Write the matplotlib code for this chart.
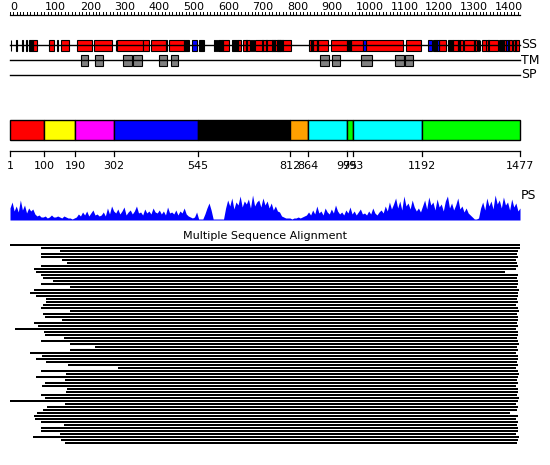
import matplotlib
matplotlib.use("Agg")
import matplotlib.pyplot as plt
from matplotlib.patches import Rectangle

# ---- data ----
seq_len = 1477
ruler_labels = list(range(0, 1401, 100))

# secondary structure elements (start, end residue)
ss_helix = [(68, 80), (115, 129), (148, 173), (194, 237), (245, 295), (312, 385), (385, 404),
            (408, 452), (462, 506), (553, 558), (618, 636), (661, 670), (676, 696), (710, 814),
            (866, 871), (878, 889), (892, 920), (930, 977), (987, 1024), (1030, 1139), (1147, 1190),
            (1242, 1262), (1283, 1298), (1303, 1311), (1316, 1343), (1346, 1352), (1366, 1412),
            (1424, 1428), (1432, 1437), (1445, 1455), (1457, 1462), (1464, 1474)]
ss_strand = [(64, 68), (452, 456), (529, 541), (614, 618), (729, 732), (760, 763), (773, 776),
             (782, 785), (789, 792), (1024, 1030), (1212, 1221), (1230, 1234), (1238, 1242),
             (1383, 1387), (1428, 1432), (1437, 1441)]
ss_other = [(3, 5), (19, 21), (36, 38), (48, 50), (57, 64), (138, 140), (307, 309), (506, 519),
            (548, 553), (558, 563), (591, 593), (598, 600), (604, 614), (643, 661), (684, 687),
            (699, 701), (704, 706), (742, 745), (766, 769), (778, 781), (871, 878), (889, 892),
            (977, 987), (1226, 1230), (1234, 1238), (1270, 1283), (1298, 1303), (1343, 1346),
            (1356, 1358), (1360, 1362), (1378, 1380), (1417, 1424), (1441, 1445), (1462, 1464)]

tm_segments = [(207, 228), (248, 271), (329, 353), (358, 382), (433, 456), (468, 488),
               (899, 923), (934, 957), (1018, 1048), (1116, 1140), (1145, 1166)]

domain_bounds = [1, 100, 190, 302, 545, 812, 864, 975, 993, 1192, 1477]
domain_colors = ["#ff0000", "#ffff00", "#ff00ff", "#0000ff", "#000000", "#ffa000",
                 "#00ffff", "#00ff00", "#00ffff", "#00ff00"]

# PS profile: one height every 6 residues (plus the last residue)
ps_res = list(range(1, seq_len, 6)) + [seq_len]
ps_val = [12, 18, 9, 14, 8, 20, 10, 15, 7, 12, 9, 11, 6,
          4, 5, 3, 3, 4, 2, 3, 5, 3, 3, 4, 3, 2, 4, 3, 2, 2,
          1, 2, 3,
          6, 4, 8, 5, 9, 4, 7, 10, 5, 6, 4,
          5, 8, 4, 12, 6, 14, 9,
          7, 11, 6, 9, 13, 5, 8,
          10, 6, 9, 14, 7, 8, 5, 11, 7, 9, 6, 12, 8, 7, 10,
          6, 9, 5, 13, 7, 8, 6, 10, 5, 9, 7, 12, 6, 4, 3,
          2, 3, 8,
          1, 1, 1,
          6, 12, 17, 10,
          1, 1, 1, 1, 1, 1,
          12, 20, 14, 22, 11, 18, 15, 24, 13, 19, 16, 21, 12, 25, 14, 18, 20, 13, 22, 15, 19, 12,
          17, 10, 14, 9, 8,
          4, 3, 2, 2, 2, 1, 2, 2, 3, 2, 3, 4, 5,
          8, 5, 10, 6, 14, 7, 9, 5, 12, 8, 6, 11, 7, 15, 9, 6, 8, 5, 10, 7, 13, 6, 9, 5, 8, 11,
          6, 7, 5, 9, 6, 12, 7, 5, 8,
          10, 7, 14, 9, 18, 11, 16, 22, 12, 19, 10, 24, 14, 17, 11, 20, 13,
          9, 12, 8, 14, 20, 11, 23, 15, 18, 10, 21, 13, 16, 9, 19, 24, 12, 17, 10, 15, 22, 11,
          14, 8, 12, 7, 5, 3,
          1, 1, 2,
          12, 18, 10, 22, 14, 19, 11, 25, 16, 20, 12, 23, 15, 18, 10, 21, 13, 17, 9, 12]

# multiple sequence alignment rows (first and last aligned residue)
msa_start = [1, 91, 146, 91, 91, 152, 166, 91, 70, 76, 91, 96, 125, 91, 175, 70, 59, 76, 105,
             105, 96, 91, 175, 96, 102, 152, 70, 82, 15, 99, 102, 157, 91, 175, 247, 175, 59,
             94, 76, 105, 169, 314, 91, 163, 76, 160, 102, 94, 166, 163, 91, 102, 1, 160, 108,
             96, 79, 70, 73, 91, 157, 91, 91, 146, 68, 149, 160]
msa_end = [1477, 1477, 1470, 1468, 1470, 1465, 1468, 1470, 1466, 1434, 1470, 1468, 1472, 1470,
           1468, 1474, 1472, 1470, 1468, 1470, 1466, 1472, 1474, 1468, 1470, 1472, 1468, 1470,
           1466, 1470, 1472, 1468, 1470, 1474, 1468, 1470, 1466, 1470, 1472, 1468, 1470, 1466,
           1472, 1474, 1470, 1468, 1470, 1466, 1472, 1470, 1468, 1474, 1470, 1466, 1470, 1468,
           1448, 1470, 1466, 1470, 1468, 1472, 1470, 1466, 1474, 1470, 1468]

# ---- figure: one axes, x in residues, y in layout units (px from top) ----
px_per_res = 510 / (seq_len - 1)
fig = plt.figure(figsize=(5.5, 4.65), dpi=100)
ax = fig.add_axes([0, 0, 1, 1])
ax.set_xlim(1 - 10 / px_per_res, 1 + 540 / px_per_res)
ax.set_ylim(465, 0)
ax.axis("off")

fs = 8

# top ruler
ax.plot([0, seq_len], [15, 15], color="black", lw=0.9)
for v in range(0, seq_len, 10):
    ax.plot([v, v], [12, 15], color="black", lw=0.7)
for v in ruler_labels:
    ax.text(v + 3, 10.5, str(v), fontsize=fs, ha="left", va="baseline")

# SS track
ax.plot([1, seq_len], [45, 45], color="black", lw=1)
for segs, col in [(ss_helix, "#ff0000"), (ss_strand, "#0000ff"), (ss_other, "#000000")]:
    for s, e in segs:
        ax.add_patch(Rectangle((s, 40), e - s, 11, facecolor=col, edgecolor="black", lw=0.8))
ax.text(seq_len + 2, 45, "SS", fontsize=fs + 1, ha="left", va="center")

# TM track
ax.plot([1, seq_len], [60, 60], color="black", lw=1)
for s, e in tm_segments:
    ax.add_patch(Rectangle((s, 55), e - s, 11, facecolor="#808080", edgecolor="black", lw=0.8))
ax.text(seq_len + 2, 60, "TM", fontsize=fs + 1, ha="left", va="center")

# SP track
ax.plot([1, seq_len], [75, 75], color="black", lw=1)
ax.text(seq_len + 2, 75, "SP", fontsize=fs + 1, ha="left", va="center")

# domain bar
for i, col in enumerate(domain_colors):
    s, e = domain_bounds[i], domain_bounds[i + 1]
    ax.add_patch(Rectangle((s, 120), e - s, 20, facecolor=col, edgecolor="black", lw=1))
ax.plot([1, seq_len], [151, 151], color="black", lw=0.9)
for b in domain_bounds:
    ax.plot([b, b], [151, 156], color="black", lw=0.9)
    ax.text(b, 166, str(b), fontsize=fs, ha="center", va="center")

# PS profile
ps_top = [220 - h for h in ps_val]
ax.fill_between(ps_res, ps_top, 220, color="#0000ff", lw=0)
ax.text(seq_len + 2, 195, "PS", fontsize=fs + 1, ha="left", va="center")

# MSA
ax.text(739, 236, "Multiple Sequence Alignment", fontsize=fs, ha="center", va="center")
pitch = 3
for i, (s, e) in enumerate(zip(msa_start, msa_end)):
    y = 245 + i * pitch
    ax.plot([s, e], [y, y], color="black", lw=1.44, solid_capstyle="butt", antialiased=False)

fig.savefig("out.png", dpi=100)
